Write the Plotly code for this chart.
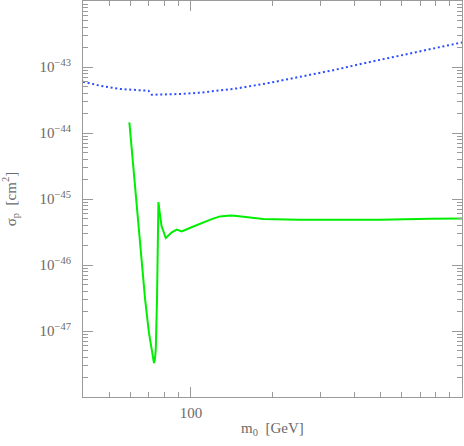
import plotly.graph_objects as go

# Blue dotted curve (upper limit)
blue_m = [40, 46.2, 54.8, 68.7, 69.7, 71.7, 81.5, 91.2, 108.1, 128.1, 147.7, 188, 250, 332, 440, 585, 776, 1000]
blue_s = [5.98e-44, 5.21e-44, 4.64e-44, 4.37e-44, 4.37e-44, 3.80e-44, 3.80e-44, 3.90e-44, 4.08e-44,
          4.37e-44, 4.74e-44, 5.58e-44, 7.05e-44, 8.88e-44, 1.15e-43, 1.48e-43, 1.89e-43, 2.36e-43]

# Green solid curve
green_m = [59.3, 62.0, 65.3, 67.8, 70.0, 71.7, 72.6, 73.1, 73.7, 74.2, 75.0, 75.5, 75.9, 77.0, 78.0, 80.8,
           83.0, 85.0, 88.7, 92.5, 100.0, 111.2, 120.0, 128.1, 133.7, 139.4, 145.0, 155.0, 165.3, 185,
           250, 326, 499, 763, 1000]
green_s = [1.45e-44, 1.8e-45, 1.71e-46, 2.98e-47, 9.5e-48, 5.21e-48, 3.8e-48, 3.27e-48, 3.8e-48, 5.2e-48,
           2.98e-47, 1.71e-46, 9.0e-46, 5.6e-46, 3.85e-46, 2.56e-46,
           2.8e-46, 3.12e-46, 3.43e-46, 3.23e-46, 3.7e-46, 4.48e-46, 5.0e-46, 5.45e-46, 5.6e-46, 5.62e-46,
           5.58e-46, 5.4e-46, 5.2e-46, 4.98e-46, 4.85e-46, 4.81e-46, 4.86e-46, 5.03e-46, 5.08e-46]

x_major = [100]
x_major_text = ["100"]
x_minor = [50, 60, 70, 80, 90, 200, 300, 400, 500, 600, 700, 800, 900]
y_major = [1e-47, 1e-46, 1e-45, 1e-44, 1e-43]
y_major_text = ["10<sup>\u221247</sup>", "10<sup>\u221246</sup>", "10<sup>\u221245</sup>",
                "10<sup>\u221244</sup>", "10<sup>\u221243</sup>"]
y_minor = [k * 10.0 ** e for e in range(-48, -42) for k in range(2, 10)]

x_title = "m<sub>0</sub>  [GeV]"
y_title = "\u03c3<sub>p</sub>  [cm<sup>2</sup>]"

axis_gray = "#9a9a9a"
text_gray = "#6a6a6a"
font_fam = "Liberation Serif, DejaVu Serif, serif"

fig = go.Figure()
fig.add_trace(go.Scatter(x=blue_m, y=blue_s, mode="lines",
                         line=dict(color="#2d4dff", width=2, dash="2px,2.7px"),
                         showlegend=False, hoverinfo="skip"))
fig.add_trace(go.Scatter(x=green_m, y=green_s, mode="lines",
                         line=dict(color="#00ee00", width=2),
                         showlegend=False, hoverinfo="skip"))

fig.update_layout(
    width=464, height=446,
    margin=dict(l=83, r=2, t=1, b=49, autoexpand=False),
    paper_bgcolor="white", plot_bgcolor="white",
    font=dict(family=font_fam, color=text_gray, size=14),
    xaxis=dict(type="log", range=[1.60206, 3.0], automargin=False,
               tickmode="array", tickvals=x_major, ticktext=x_major_text,
               ticks="inside", ticklen=10, tickwidth=1, tickcolor=axis_gray,
               showline=True, linecolor=axis_gray, linewidth=1, mirror="ticks",
               showgrid=False, zeroline=False,
               tickfont=dict(size=15, color=text_gray, family=font_fam),
               ticklabelstandoff=2,
               minor=dict(tickmode="array", tickvals=x_minor, ticks="inside",
                          ticklen=5, tickcolor=axis_gray, tickwidth=1, showgrid=False)),
    yaxis=dict(type="log", range=[-48, -42], automargin=False,
               tickmode="array", tickvals=y_major, ticktext=y_major_text,
               ticks="inside", ticklen=10, tickwidth=1, tickcolor=axis_gray,
               showline=True, linecolor=axis_gray, linewidth=1, mirror="ticks",
               showgrid=False, zeroline=False,
               tickfont=dict(size=15, color=text_gray, family=font_fam),
               ticklabelstandoff=8,
               minor=dict(tickmode="array", tickvals=y_minor, ticks="inside",
                          ticklen=5, tickcolor=axis_gray, tickwidth=1, showgrid=False)),
    annotations=[
        dict(text=x_title, xref="paper", yref="paper", x=0.5, y=-0.08, xanchor="center", yanchor="middle",
             showarrow=False, font=dict(size=15, color=text_gray, family=font_fam)),
        dict(text=y_title, xref="paper", yref="paper", x=-0.192, y=0.5, xanchor="center", yanchor="middle",
             textangle=-90, showarrow=False, font=dict(size=15, color=text_gray, family=font_fam)),
    ],
)

fig.write_html("out.html", config={"displayModeBar": False},
               post_script="document.body.style.margin='0';document.body.style.overflow='hidden';")
